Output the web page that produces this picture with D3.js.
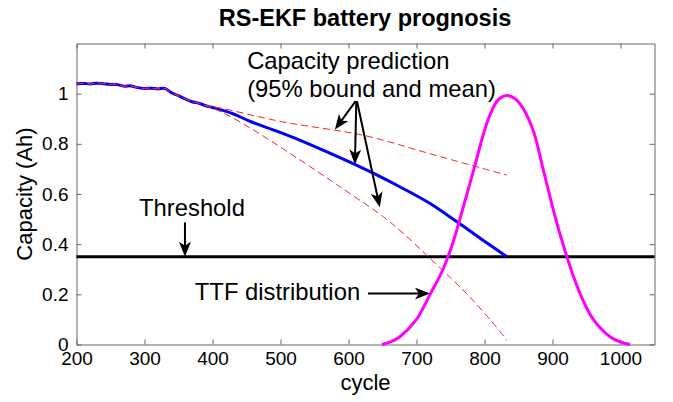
<!DOCTYPE html>
<html>
<head>
<meta charset="utf-8">
<script src="https://cdn.jsdelivr.net/npm/d3@7"></script>
<style>
  body { margin: 0; background: #fff; }
  text { font-family: "Liberation Sans", Arial, sans-serif; }
</style>
</head>
<body>
<div id="chart"></div>
<script>
// measured capacity before the prediction starts (noisy part)
const histCycle = [200, 210, 220, 230, 240, 250, 260, 270, 280, 290, 300, 310, 320, 330, 340, 350, 360, 370, 380, 390];
const histCap = [1.040, 1.041, 1.039, 1.042, 1.040, 1.037, 1.036, 1.030, 1.031, 1.024, 1.021, 1.022, 1.019, 1.021, 1.003, 0.992, 0.979, 0.968, 0.962, 0.952];

// predicted mean
const meanCycle = [390, 400, 430, 455, 490, 529, 565, 602, 640, 676, 720, 759, 795, 833];
const meanCap = [0.952, 0.945, 0.920, 0.890, 0.855, 0.814, 0.772, 0.727, 0.678, 0.628, 0.562, 0.490, 0.421, 0.350];

// 95% bounds
const upperCycle = [390, 400, 420, 460, 504, 530, 578, 617, 660, 700, 760, 800, 833];
const upperCap = [0.952, 0.948, 0.938, 0.913, 0.887, 0.875, 0.855, 0.837, 0.808, 0.776, 0.730, 0.700, 0.675];
const lowerCycle = [390, 400, 420, 450, 480, 510, 543, 575, 602, 651, 690, 715, 739, 760, 783, 808, 833];
const lowerCap = [0.952, 0.942, 0.918, 0.872, 0.822, 0.769, 0.710, 0.652, 0.602, 0.510, 0.420, 0.356, 0.294, 0.240, 0.176, 0.100, 0.017];

// time-to-failure distribution (scaled)
const ttfCycle = [649, 662, 676, 700, 720, 739, 754, 770, 786, 798, 808, 820, 833, 845, 857, 872, 887, 900, 911, 931, 945, 960, 985, 1000, 1014];
const ttfValue = [0, 0.010, 0.032, 0.100, 0.200, 0.300, 0.410, 0.560, 0.715, 0.835, 0.915, 0.975, 0.993, 0.980, 0.940, 0.850, 0.690, 0.550, 0.440, 0.270, 0.175, 0.100, 0.030, 0.010, 0];

const threshold = 0.35;

const xTicks = [200, 300, 400, 500, 600, 700, 800, 900, 1000];
const yTicks = [0, 0.2, 0.4, 0.6, 0.8, 1];

const svgWidth = 673;
const svgHeight = 402;

const svg = d3.select("#chart")
  .append("svg")
  .attr("width", svgWidth)
  .attr("height", svgHeight)
  .style("background", "#fff");

const x = d3.scaleLinear().domain([200, 1050]).range([76.5, 654.5]);
const y = d3.scaleLinear().domain([0, 1.2]).range([344.5, 43.5]);

const axisColor = "#666";

// axes, MATLAB style box with inward ticks
function styleAxis(g) {
  g.selectAll(".domain").attr("stroke", axisColor);
  g.selectAll(".tick line").attr("stroke", axisColor);
  g.selectAll(".tick text").attr("fill", "#000").style("font-size", "19px");
}

svg.append("g")
  .attr("transform", `translate(0, ${y(0)})`)
  .call(d3.axisBottom(x).tickValues(xTicks).tickSizeInner(-5).tickSizeOuter(0).tickPadding(7).tickFormat(d3.format("d")))
  .call(styleAxis);

svg.append("g")
  .attr("transform", `translate(0, ${y(1.2)})`)
  .call(d3.axisTop(x).tickValues(xTicks).tickSizeInner(-5).tickSizeOuter(0).tickFormat(""))
  .call(styleAxis);

svg.append("g")
  .attr("transform", `translate(${x(200)}, 0)`)
  .call(d3.axisLeft(y).tickValues(yTicks).tickSizeInner(-5).tickSizeOuter(0).tickPadding(8).tickFormat(d => d === 0 || d === 1 ? d3.format("d")(d) : d3.format(".1f")(d)))
  .call(styleAxis);

svg.append("g")
  .attr("transform", `translate(${x(1050)}, 0)`)
  .call(d3.axisRight(y).tickValues(yTicks).tickSizeInner(-5).tickSizeOuter(0).tickFormat(""))
  .call(styleAxis);

// threshold
svg.append("line")
  .attr("x1", x(200)).attr("x2", x(1050))
  .attr("y1", y(threshold)).attr("y2", y(threshold))
  .attr("stroke", "#000")
  .attr("stroke-width", 3);

const line = d3.line()
  .x(d => x(d[0]))
  .y(d => y(d[1]))
  .curve(d3.curveCatmullRom.alpha(0.5));

const histPts = histCycle.map((c, i) => [c, histCap[i]]);
const meanPts = histPts.slice(0, -1).concat(meanCycle.map((c, i) => [c, meanCap[i]]));
const upperPts = histPts.slice(0, -1).concat(upperCycle.map((c, i) => [c, upperCap[i]]));
const lowerPts = histPts.slice(0, -1).concat(lowerCycle.map((c, i) => [c, lowerCap[i]]));
const ttfPts = ttfCycle.map((c, i) => [c, ttfValue[i]]);

// mean
svg.append("path")
  .datum(meanPts)
  .attr("d", line)
  .attr("fill", "none")
  .attr("stroke", "#0000ff")
  .attr("stroke-width", 3);

// bounds
[upperPts, lowerPts].forEach(pts => {
  svg.append("path")
    .datum(pts)
    .attr("d", line)
    .attr("fill", "none")
    .attr("stroke", "#ff2020")
    .attr("stroke-width", 1)
    .attr("stroke-dasharray", "7,4");
});

// TTF distribution
svg.append("path")
  .datum(ttfPts)
  .attr("d", line)
  .attr("fill", "none")
  .attr("stroke", "#ff00ff")
  .attr("stroke-width", 3);

// title and axis labels
svg.append("text")
  .attr("x", 365)
  .attr("y", 26)
  .attr("text-anchor", "middle")
  .style("font-size", "23.5px")
  .style("font-weight", "bold")
  .text("RS-EKF battery prognosis");

svg.append("text")
  .attr("x", (x(200) + x(1050)) / 2)
  .attr("y", 390)
  .attr("text-anchor", "middle")
  .style("font-size", "22px")
  .text("cycle");

svg.append("text")
  .attr("transform", `translate(32, ${(y(0) + y(1.2)) / 2}) rotate(-90)`)
  .attr("text-anchor", "middle")
  .style("font-size", "22px")
  .text("Capacity (Ah)");

// annotations (data coordinates)
const notes = [
  { text: "Capacity prediction", cycle: 451, cap: 1.097 },
  { text: "(95% bound and mean)", cycle: 451, cap: 0.986 },
  { text: "Threshold", cycle: 292, cap: 0.511 },
  { text: "TTF distribution", cycle: 374, cap: 0.177 }
];

svg.selectAll(".note")
  .data(notes)
  .enter()
  .append("text")
  .attr("class", "note")
  .attr("x", d => x(d.cycle))
  .attr("y", d => y(d.cap))
  .style("font-size", "23.8px")
  .text(d => d.text);

const arrows = [
  { from: [359.5, 0.487], to: [359.5, threshold] },
  { from: [628.6, 0.203], to: [719.7, 0.203] },
  { from: [610.5, 0.970], to: [580, 0.857] },
  { from: [611.5, 0.970], to: [609.4, 0.718] },
  { from: [612.5, 0.970], to: [646, 0.547] }
];

svg.append("defs").append("marker")
  .attr("id", "head")
  .attr("markerUnits", "userSpaceOnUse")
  .attr("markerWidth", 16)
  .attr("markerHeight", 12)
  .attr("refX", 7)
  .attr("refY", 6)
  .attr("orient", "auto")
  .append("path")
  .attr("d", "M0,0 L15,6 L0,12 L4,6 Z")
  .attr("fill", "#000");

svg.selectAll(".arrow")
  .data(arrows)
  .enter()
  .append("line")
  .attr("class", "arrow")
  .each(function(d) {
    const x1 = x(d.from[0]), y1 = y(d.from[1]);
    const x2 = x(d.to[0]), y2 = y(d.to[1]);
    const len = Math.hypot(x2 - x1, y2 - y1);
    const k = (len - 8) / len;
    d3.select(this)
      .attr("x1", x1).attr("y1", y1)
      .attr("x2", x1 + (x2 - x1) * k)
      .attr("y2", y1 + (y2 - y1) * k);
  })
  .attr("stroke", "#000")
  .attr("stroke-width", 2)
  .attr("marker-end", "url(#head)");
</script>
</body>
</html>
